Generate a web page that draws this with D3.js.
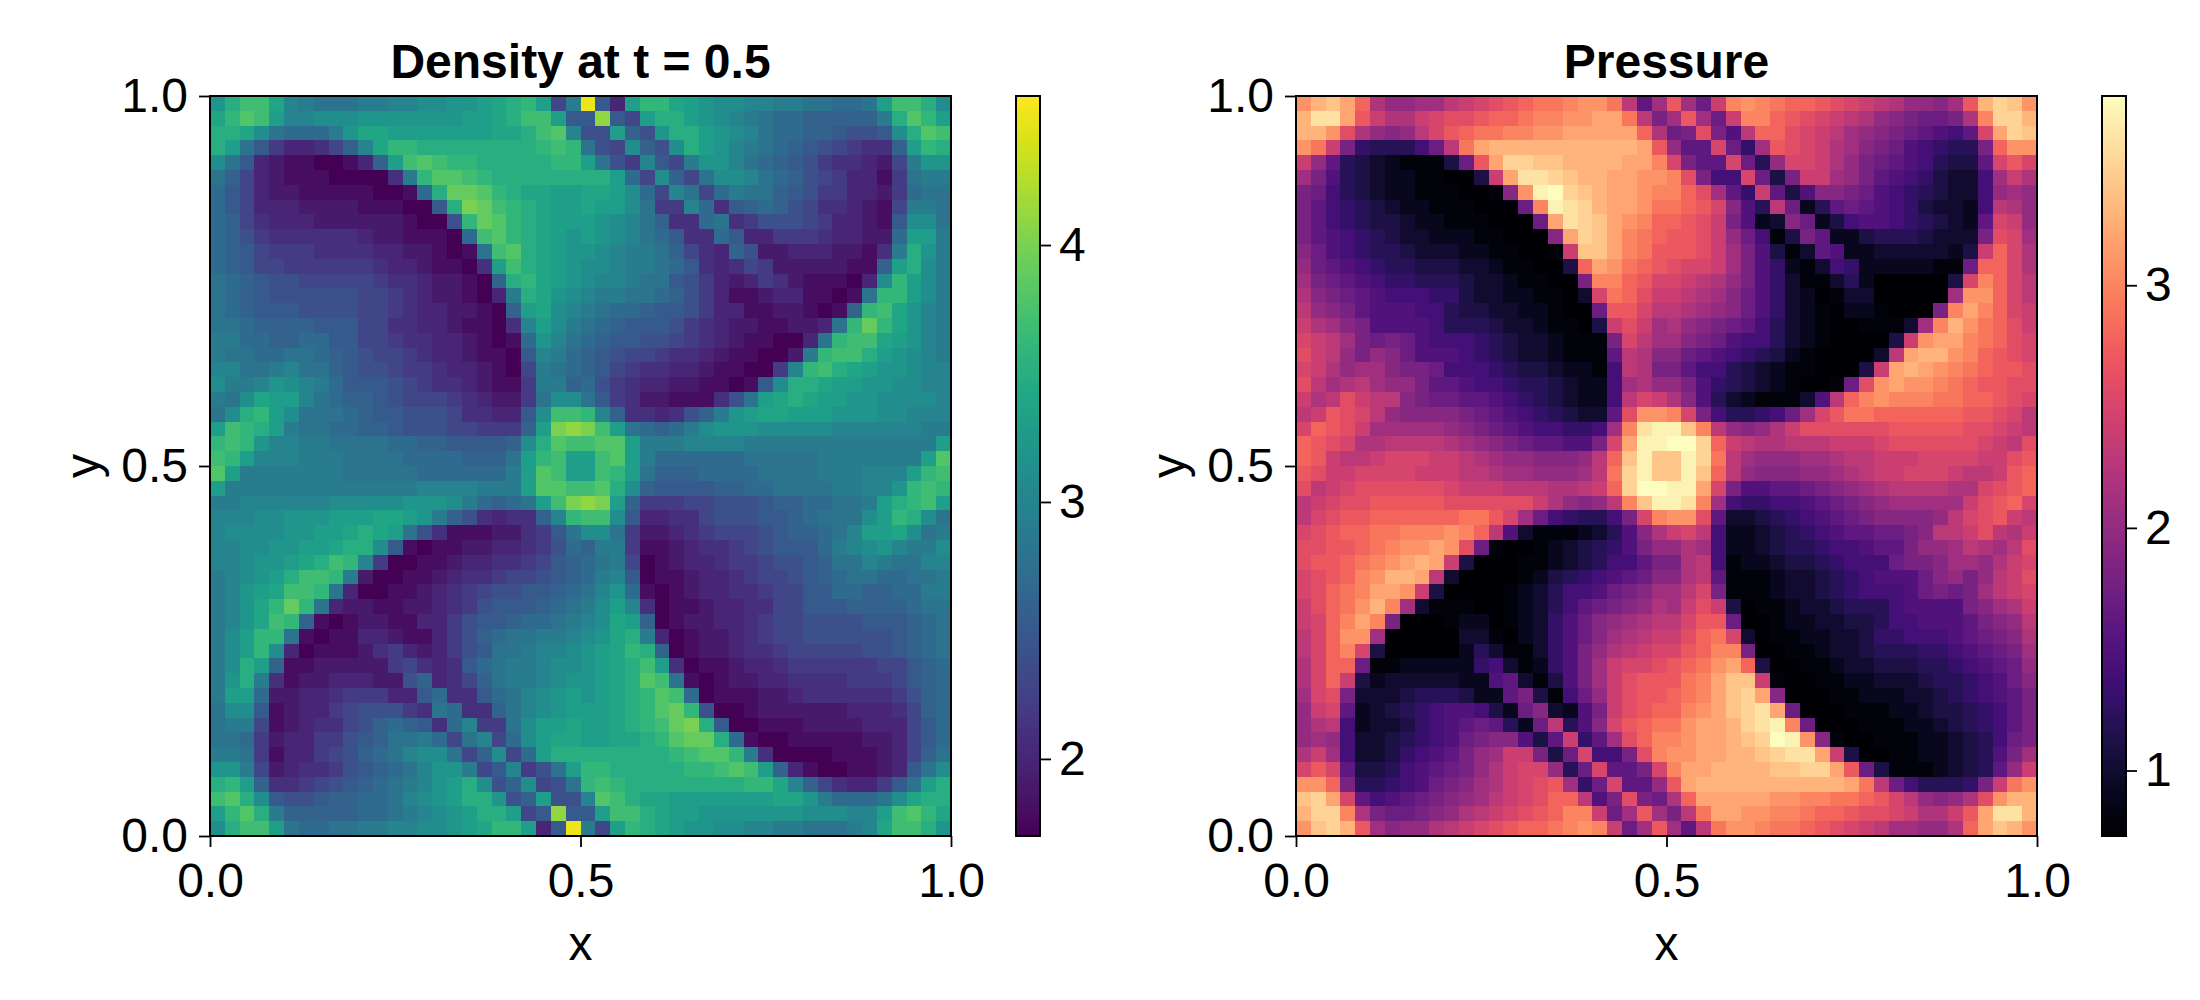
<!DOCTYPE html>
<html>
<head>
<meta charset="utf-8">
<script src="https://cdn.jsdelivr.net/npm/d3@7"></script>
<style>
body { margin: 0; background: #fff; }
svg text { font-family: "Liberation Sans", Arial, sans-serif; fill: #000; }
</style>
</head>
<body>
<div id="holder"></div>
<script>
// values, in tenths, top row of the plot first.
// only the upper 25 rows are listed: both fields repeat under a half turn about the centre.
var densityTenths = [
[32,35,37,37,34,30,29,28,28,28,29,29,30,30,31,31,32,32,33,34,35,36,33,23,29,45,25,20,33,36,36,34,33,32,31,31,30,30,29,29,28,28,27,27,28,33,37,37,35,31],
[34,36,38,37,33,30,30,31,31,31,32,32,32,32,32,32,32,33,33,34,35,37,37,33,25,25,41,25,23,33,35,35,33,32,31,30,29,28,27,27,26,26,26,26,26,29,35,38,36,33],
[35,35,34,31,28,27,27,27,29,32,34,34,33,33,33,33,33,33,33,34,34,35,37,38,30,24,24,33,26,24,32,35,35,33,32,31,30,28,27,27,26,26,25,24,24,25,31,35,38,37],
[35,33,28,25,22,20,20,21,23,26,30,34,36,36,35,35,35,35,35,35,35,35,36,37,36,28,24,23,31,26,24,31,35,33,32,30,29,28,27,26,25,24,23,22,21,21,26,33,36,35],
[31,28,25,20,19,18,18,17,17,18,20,26,33,37,38,37,36,36,35,35,35,35,35,36,36,33,28,24,22,30,25,23,29,32,32,30,28,27,26,25,24,22,21,21,20,19,23,29,32,32],
[28,26,23,20,19,18,18,18,17,17,17,17,21,29,36,38,38,37,36,35,35,35,35,35,35,35,35,33,27,23,31,26,23,28,31,31,30,28,27,26,24,23,22,20,20,18,22,28,29,29],
[27,25,23,20,19,19,18,18,18,18,18,17,17,18,27,35,39,39,38,36,35,34,34,33,33,34,34,33,31,27,23,30,28,23,27,29,28,28,26,25,24,22,22,20,20,19,22,27,28,28],
[27,25,23,20,20,20,19,19,19,19,18,18,18,17,17,25,35,40,39,37,36,35,34,33,33,34,33,33,31,28,22,22,30,27,21,25,26,27,26,24,23,21,21,20,19,18,23,29,29,28],
[27,26,23,21,20,20,20,19,19,19,19,19,19,18,17,17,24,36,39,38,36,35,34,33,33,33,32,31,30,28,26,21,21,27,28,21,22,24,24,24,23,22,20,20,19,18,25,31,31,28],
[27,26,24,22,21,21,21,21,21,21,20,19,19,18,18,18,17,27,37,38,36,35,34,33,32,33,32,31,30,28,27,25,21,21,27,25,20,20,22,22,22,21,20,20,19,19,27,33,33,29],
[27,26,25,23,22,22,22,21,21,21,21,20,20,19,19,18,17,18,28,37,38,35,34,33,32,32,31,30,29,29,28,26,23,21,20,26,24,19,19,20,20,20,19,19,18,21,29,35,32,29],
[27,26,25,23,23,22,22,22,22,22,22,21,20,20,19,18,18,17,21,33,37,35,34,33,32,31,31,30,29,29,28,27,25,21,20,21,23,22,19,19,19,19,19,18,18,26,33,35,31,29],
[28,27,26,25,24,24,23,23,23,23,23,22,21,21,20,19,19,18,17,26,35,36,34,33,32,31,30,30,29,28,28,25,24,22,20,19,20,22,21,19,18,18,18,17,20,31,36,33,31,29],
[28,27,26,25,24,24,24,24,24,24,23,23,22,21,20,19,19,18,17,20,29,35,34,32,31,30,29,29,28,28,27,26,24,22,20,18,18,19,20,20,18,18,17,18,28,36,36,33,31,29],
[28,27,26,25,25,25,24,24,24,24,23,23,22,21,20,20,19,19,18,17,26,33,34,31,30,29,28,27,27,26,25,25,24,22,20,20,18,18,19,19,18,17,18,26,36,37,34,32,30,29],
[28,28,27,26,26,26,26,25,25,25,23,23,21,21,20,20,19,18,18,17,21,30,33,31,29,28,27,26,25,25,25,24,22,21,20,19,19,18,18,19,19,20,28,36,39,36,34,32,30,29],
[29,29,27,27,26,26,27,27,25,25,23,23,22,21,21,20,20,19,18,17,18,27,32,30,28,27,26,25,25,24,24,23,22,21,20,19,18,18,17,17,20,28,36,37,37,34,33,32,30,29],
[29,28,28,27,27,28,28,27,26,25,24,23,23,22,21,20,20,19,18,18,17,25,30,29,27,26,25,24,23,23,22,21,21,20,19,18,18,17,17,19,29,36,37,37,35,33,32,31,30,29],
[30,30,28,28,29,30,28,28,26,25,24,24,23,22,22,21,20,20,19,18,17,23,29,28,27,26,25,23,22,21,21,20,20,19,18,18,17,17,22,30,36,37,35,34,33,32,32,31,30,30],
[31,29,29,30,32,31,30,29,27,25,25,25,24,23,22,21,21,20,19,18,18,22,29,29,26,27,24,22,21,20,20,19,19,18,18,17,18,25,31,35,35,34,33,33,32,32,31,31,30,30],
[29,28,31,34,33,33,30,28,27,26,26,25,24,23,23,23,22,21,20,19,19,22,28,31,31,28,25,22,21,19,19,18,18,18,21,24,28,33,34,35,34,33,33,32,32,31,31,31,31,30],
[28,31,35,36,33,31,28,28,28,27,26,25,25,24,24,24,23,21,21,20,20,25,31,37,37,36,30,26,21,21,20,21,24,26,29,32,33,34,34,33,33,33,32,32,32,31,31,30,30,30],
[33,37,36,35,33,29,28,28,27,27,26,26,25,24,24,24,23,23,22,22,22,26,33,40,41,40,37,33,28,27,26,27,29,31,32,32,32,31,31,31,31,31,30,30,30,30,30,30,29,29],
[36,37,36,32,30,30,29,29,28,28,28,28,27,27,26,26,25,25,25,25,26,31,35,38,37,37,38,38,33,29,29,29,30,30,30,30,29,29,29,29,29,29,29,29,29,29,29,29,29,33],
[37,36,33,30,30,30,29,29,29,28,28,28,28,27,27,27,27,26,26,26,28,33,36,37,33,33,37,38,33,29,27,27,27,27,27,27,28,28,28,28,28,29,29,29,29,29,29,29,33,38]
];

var pressureTenths = [
[31,33,34,32,28,22,20,20,21,21,23,24,25,26,27,28,29,29,30,31,31,29,23,16,21,27,21,17,24,30,31,30,29,28,28,27,26,25,24,23,22,20,20,19,21,27,33,35,34,31],
[33,36,36,32,27,24,22,22,24,25,26,26,27,28,28,29,30,30,31,31,32,32,29,23,18,21,27,21,17,24,30,30,28,27,26,25,24,23,22,20,19,18,17,17,18,22,30,35,35,33],
[33,33,31,26,22,20,19,20,23,25,27,28,29,29,30,30,31,31,32,32,32,32,32,28,22,17,18,26,18,15,23,28,28,26,25,24,23,21,20,19,18,17,16,15,14,16,25,32,35,34],
[31,29,24,18,13,12,12,12,14,17,23,29,32,33,33,33,33,33,33,33,33,33,33,32,27,20,16,16,25,17,13,21,27,26,25,24,22,21,19,18,17,15,14,13,12,12,18,28,31,31],
[24,20,16,12,11,10,9,8,8,8,11,17,27,32,35,35,34,34,33,33,33,33,32,32,30,25,18,16,16,25,17,12,20,25,25,24,22,20,18,17,16,15,14,12,11,11,16,25,27,25],
[21,18,15,12,11,10,9,9,8,8,7,7,11,24,32,36,36,35,34,33,33,32,32,31,31,30,26,18,14,14,25,17,11,18,24,24,21,20,18,16,15,14,13,11,10,10,14,21,24,22],
[18,17,14,12,11,10,9,9,8,8,8,7,7,8,19,31,37,38,35,34,33,32,32,31,30,30,28,26,21,16,13,24,16,11,15,19,19,18,17,15,14,13,12,11,10,10,14,20,21,20],
[18,16,14,13,12,11,10,9,9,8,8,8,7,7,7,17,30,37,36,35,33,32,32,31,29,29,28,27,25,19,15,12,23,17,9,12,16,17,16,15,14,13,11,10,10,9,14,23,22,20],
[18,16,14,13,12,11,11,10,9,9,8,8,8,7,7,7,17,32,36,35,34,32,31,30,28,28,27,26,24,18,15,9,10,19,17,9,11,14,15,15,14,13,12,11,10,9,16,25,24,20],
[18,16,15,14,13,12,11,10,10,9,9,9,8,8,7,7,7,19,32,35,34,32,30,29,28,27,27,26,24,20,17,14,8,11,18,16,9,9,11,12,12,12,11,10,10,10,18,26,25,21],
[19,17,15,14,13,12,12,11,10,10,10,9,9,8,8,7,7,8,24,34,34,32,30,29,27,27,27,26,24,21,18,15,11,8,10,16,15,9,9,10,10,10,10,10,9,11,24,28,25,22],
[20,17,16,15,14,13,12,12,11,11,11,10,10,9,8,8,7,7,11,28,32,31,29,28,27,26,25,25,24,21,18,15,13,9,8,10,14,13,9,9,9,9,9,8,8,17,28,28,25,22],
[21,18,17,16,15,14,13,13,12,12,12,11,10,10,9,8,8,7,7,18,30,30,28,27,25,25,24,23,22,20,18,15,13,10,8,8,10,12,9,7,7,7,7,7,11,25,30,28,25,23],
[22,19,18,17,16,15,14,14,14,13,13,11,10,10,9,9,8,8,7,10,25,29,28,26,24,24,23,22,21,19,17,15,13,10,9,7,8,10,10,7,7,7,7,7,21,31,31,28,25,23],
[23,20,19,18,16,15,15,15,14,14,12,11,11,10,10,9,9,8,7,7,17,27,27,25,23,23,22,21,20,19,17,15,13,10,9,8,7,9,9,8,7,7,7,18,30,32,30,28,25,24],
[24,22,21,19,18,15,15,15,15,14,12,12,12,11,10,10,9,8,8,7,11,24,26,24,21,22,20,19,18,17,16,14,12,10,9,8,7,7,8,8,8,10,21,30,33,31,29,28,26,24],
[25,24,23,21,18,17,18,17,15,14,14,14,13,12,11,10,10,9,8,8,8,18,25,23,21,21,19,18,17,15,14,14,12,10,9,8,7,7,7,7,11,24,31,32,32,30,29,28,26,25],
[26,24,23,20,18,20,19,17,15,15,15,14,13,12,11,10,10,9,8,8,8,16,23,22,19,19,17,16,15,14,13,12,11,9,8,7,7,7,7,10,23,32,33,33,31,30,28,27,26,25],
[25,24,22,20,21,21,19,18,18,17,14,14,14,13,12,11,11,10,9,9,8,14,23,22,18,18,16,14,14,12,11,10,9,8,8,7,7,7,11,24,32,33,32,31,30,29,28,27,27,26],
[26,23,21,22,23,21,20,20,18,16,16,15,14,14,13,12,12,11,10,9,9,14,21,22,20,20,18,15,13,12,11,10,9,8,7,7,8,17,26,31,32,31,31,30,29,28,27,27,26,26],
[24,22,23,26,24,23,23,19,18,17,17,16,16,15,14,13,12,11,10,9,9,14,23,25,24,22,19,15,12,10,9,8,8,8,10,15,23,28,30,31,30,30,30,29,29,28,28,27,26,25],
[23,24,27,26,25,23,20,19,19,19,19,18,17,16,15,14,13,12,11,10,10,16,26,31,31,30,25,18,14,12,12,13,14,17,21,25,27,29,29,28,28,28,28,28,28,27,27,26,25,23],
[25,28,27,26,24,21,21,21,21,21,20,19,18,17,16,15,14,14,13,13,14,21,30,36,37,37,34,30,23,20,19,20,22,24,26,26,26,26,26,26,27,27,27,27,27,26,26,25,24,23],
[28,27,26,25,22,22,23,23,23,23,22,21,20,19,18,17,16,16,15,15,18,25,32,37,37,38,38,35,28,24,23,22,22,23,23,23,24,24,24,25,26,26,26,26,26,26,25,24,23,26],
[28,27,24,23,23,24,25,25,25,24,24,23,22,21,20,20,19,19,19,20,23,28,34,37,34,34,37,35,29,23,21,20,20,20,21,21,22,23,23,24,24,24,25,25,25,25,24,24,26,27]
];

var xTicks = [0, 0.5, 1];
var yTicks = [0, 0.5, 1];
var densityTicks = [2, 3, 4];
var pressureTicks = [1, 2, 3];
var densityRange = [1.70, 4.58];
var pressureRange = [0.73, 3.78];

var gridSize = 50;

var layout = {
	top: 96,
	bottom: 836,
	plotWidth: 741,
	barGap: 65,
	barWidth: 24,
	tickLength: 11,
	font: 48
};

var svg = d3.select("#holder").append("svg")
	.attr("width", 2200)
	.attr("height", 1000);

// lower half is the listed half turned round the centre
function fullGrid(rows) {
	var turned = rows.slice().reverse().map(function(r) { return r.slice().reverse(); });
	return rows.concat(turned);
}

function styleAxis(g) {
	g.selectAll("path").remove();
	g.selectAll("line").attr("stroke", "#000").attr("stroke-width", 1.8);
	g.selectAll("text").attr("font-size", layout.font).attr("fill", "#000");
}

function drawPanel(left, title, rows, range, interpolator, barTicks) {

	var right = left + layout.plotWidth;
	var x = d3.scaleLinear().domain([0, 1]).range([left, right]);
	var y = d3.scaleLinear().domain([0, 1]).range([layout.bottom, layout.top]);
	var color = d3.scaleSequential(interpolator).domain(range).clamp(true);

	var cells = [];
	fullGrid(rows).forEach(function(row, r) {
		row.forEach(function(v, c) {
			cells.push({row: r, col: c, value: v / 10});
		});
	});

	svg.append("g").selectAll("rect").data(cells).enter()
		.append("rect")
		.attr("x", function(d) { return x(d.col / gridSize); })
		.attr("y", function(d) { return y(1 - d.row / gridSize); })
		.attr("width", x(1 / gridSize) - x(0))
		.attr("height", y(0) - y(1 / gridSize))
		.attr("fill", function(d) { return color(d.value); })
		.attr("shape-rendering", "crispEdges");

	svg.append("rect")
		.attr("x", left)
		.attr("y", layout.top)
		.attr("width", layout.plotWidth)
		.attr("height", layout.bottom - layout.top)
		.attr("fill", "none")
		.attr("stroke", "#000")
		.attr("stroke-width", 2);

	svg.append("g")
		.attr("transform", "translate(0," + layout.bottom + ")")
		.call(d3.axisBottom(x).tickValues(xTicks).tickFormat(d3.format(".1f")).tickSizeOuter(0).tickSize(layout.tickLength).tickPadding(16))
		.call(styleAxis);

	svg.append("g")
		.attr("transform", "translate(" + left + ",0)")
		.call(d3.axisLeft(y).tickValues(yTicks).tickFormat(d3.format(".1f")).tickSizeOuter(0).tickSize(layout.tickLength).tickPadding(11))
		.call(styleAxis);

	svg.append("text")
		.attr("x", (left + right) / 2)
		.attr("y", 78)
		.attr("text-anchor", "middle")
		.attr("font-size", layout.font)
		.attr("font-weight", "bold")
		.text(title);

	svg.append("text")
		.attr("x", (left + right) / 2)
		.attr("y", 960)
		.attr("text-anchor", "middle")
		.attr("font-size", layout.font)
		.text("x");

	svg.append("text")
		.attr("transform", "translate(" + (left - 111) + "," + (layout.top + layout.bottom) / 2 + ") rotate(-90)")
		.attr("text-anchor", "middle")
		.attr("font-size", layout.font)
		.text("y");

	// colour bar
	var barLeft = right + layout.barGap;
	var barScale = d3.scaleLinear().domain(range).range([layout.bottom, layout.top]);
	var gradId = "grad" + Math.round(left);
	var stops = d3.range(0, 1.001, 0.02);

	var grad = svg.append("defs").append("linearGradient")
		.attr("id", gradId)
		.attr("x1", 0).attr("x2", 0).attr("y1", 1).attr("y2", 0);

	grad.selectAll("stop").data(stops).enter()
		.append("stop")
		.attr("offset", function(d) { return d; })
		.attr("stop-color", function(d) { return interpolator(d); });

	svg.append("rect")
		.attr("x", barLeft)
		.attr("y", layout.top)
		.attr("width", layout.barWidth)
		.attr("height", layout.bottom - layout.top)
		.attr("fill", "url(#" + gradId + ")")
		.attr("stroke", "#000")
		.attr("stroke-width", 2);

	svg.append("g")
		.attr("transform", "translate(" + (barLeft + layout.barWidth) + ",0)")
		.call(d3.axisRight(barScale).tickValues(barTicks).tickFormat(d3.format("d")).tickSizeOuter(0).tickSize(layout.tickLength).tickPadding(8))
		.call(styleAxis);
}

drawPanel(210, "Density at t = 0.5", densityTenths, densityRange, d3.interpolateViridis, densityTicks);
drawPanel(1296, "Pressure", pressureTenths, pressureRange, d3.interpolateMagma, pressureTicks);
</script>
</body>
</html>
